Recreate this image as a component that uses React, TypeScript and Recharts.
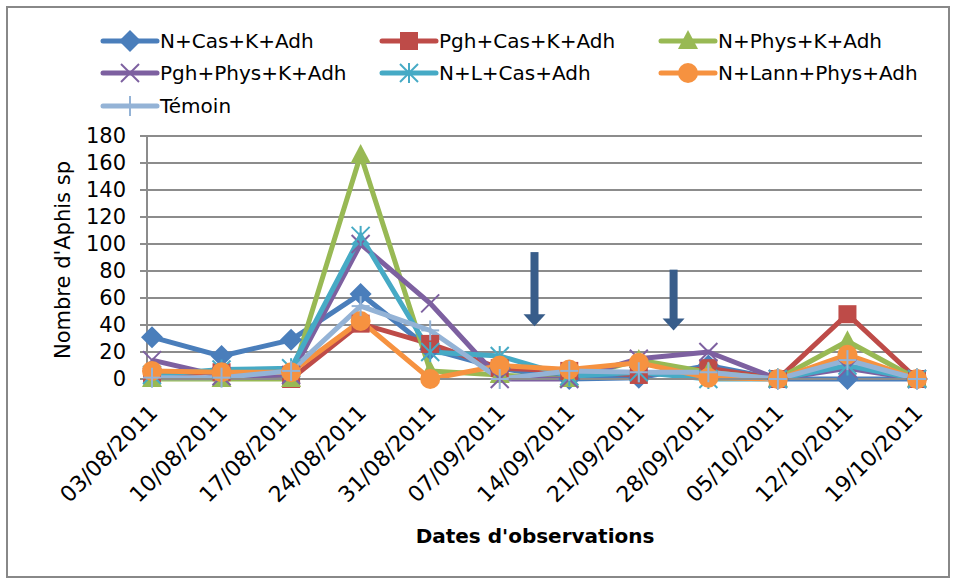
import { LineChart, Line, XAxis, YAxis, CartesianGrid, Label } from 'recharts'

const dates = ['03/08/2011', '10/08/2011', '17/08/2011', '24/08/2011', '31/08/2011', '07/09/2011',
  '14/09/2011', '21/09/2011', '28/09/2011', '05/10/2011', '12/10/2011', '19/10/2011']

const nCasKAdh     = [31, 17, 29, 63, 22, 8, 0, 1, 10, 0, 0, 0]
const pghCasKAdh   = [3, 5, 0, 41, 26, 8, 6, 3, 8, 0, 48, 0]
const nPhysKAdh    = [0, 0, 0, 166, 6, 3, 0, 14, 5, 0, 28, 0]
const pghPhysKAdh  = [14, 2, 3, 100, 56, 0, 0, 15, 20, 0, 8, 0]
const nLCasAdh     = [3, 7, 8, 106, 20, 17, 2, 5, 0, 0, 10, 0]
const nLannPhysAdh = [6, 5, 5, 43, 0, 10, 7, 12, 1, 0, 18, 0]
const temoin       = [1, 1, 6, 54, 36, 0, 6, 5, 5, 0, 14, 0]

const yTicks = [0, 20, 40, 60, 80, 100, 120, 140, 160, 180]

// arrows drawn by the author on top of the chart: [x between dates, top value, tip value]
const arrows = [
  { after: 5, top: 94, tip: 39 },
  { after: 7, top: 81, tip: 36 },
]

const FONT = '"DejaVu Sans", "Liberation Sans", sans-serif'

const series = [
  { key: 's1', name: 'N+Cas+K+Adh',      values: nCasKAdh,     color: '#4A7EBB', shape: 'diamond' },
  { key: 's2', name: 'Pgh+Cas+K+Adh',    values: pghCasKAdh,   color: '#BE4B48', shape: 'square' },
  { key: 's3', name: 'N+Phys+K+Adh',     values: nPhysKAdh,    color: '#98B954', shape: 'triangle' },
  { key: 's4', name: 'Pgh+Phys+K+Adh',   values: pghPhysKAdh,  color: '#7D60A0', shape: 'x' },
  { key: 's5', name: 'N+L+Cas+Adh',      values: nLCasAdh,     color: '#46AAC5', shape: 'star' },
  { key: 's6', name: 'N+Lann+Phys+Adh',  values: nLannPhysAdh, color: '#F69240', shape: 'circle' },
  { key: 's7', name: 'Témoin',           values: temoin,       color: '#94B3D6', shape: 'plus' },
]

const data = dates.map((d, i) => {
  const row: Record<string, string | number> = { date: d }
  series.forEach(s => { row[s.key] = s.values[i] })
  return row
})

// plot geometry (chart is 954 x 579)
const W = 954, H = 579
const margin = { top: 136, right: 32, bottom: 0, left: 0 }
const Y_AXIS_W = 147
const X_AXIS_H = 200
const plotTop = margin.top
const plotBottom = H - X_AXIS_H
const plotLeft = Y_AXIS_W + 5
const plotRight = W - margin.right - 5

function Marker({ shape, color, cx, cy }: { shape: string; color: string; cx: number; cy: number }) {
  if (cx == null || cy == null) return null
  switch (shape) {
    case 'diamond':
      return <path d={`M${cx},${cy - 11} L${cx + 11},${cy} L${cx},${cy + 11} L${cx - 11},${cy} Z`} fill={color} />
    case 'square':
      return <rect x={cx - 9} y={cy - 9} width={18} height={18} fill={color} />
    case 'triangle':
      return <path d={`M${cx},${cy - 11} L${cx + 10},${cy + 8} L${cx - 10},${cy + 8} Z`} fill={color} />
    case 'x':
      return (
        <g stroke={color} strokeWidth={2}>
          <line x1={cx - 9} y1={cy - 9} x2={cx + 9} y2={cy + 9} />
          <line x1={cx - 9} y1={cy + 9} x2={cx + 9} y2={cy - 9} />
        </g>
      )
    case 'star':
      return (
        <g stroke={color} strokeWidth={2}>
          <line x1={cx - 9} y1={cy - 9} x2={cx + 9} y2={cy + 9} />
          <line x1={cx - 9} y1={cy + 9} x2={cx + 9} y2={cy - 9} />
          <line x1={cx} y1={cy - 10} x2={cx} y2={cy + 10} />
        </g>
      )
    case 'circle':
      return <circle cx={cx} cy={cy} r={10} fill={color} />
    case 'plus':
      return (
        <g stroke={color} strokeWidth={2}>
          <line x1={cx - 9} y1={cy} x2={cx + 9} y2={cy} />
          <line x1={cx} y1={cy - 10} x2={cx} y2={cy + 10} />
        </g>
      )
    default:
      return null
  }
}

function DateTick({ x, y, payload }: any) {
  const tx = x + 7
  const ty = y + 27
  return (
    <text x={tx} y={ty} textAnchor="end" transform={`rotate(-45 ${tx} ${ty})`}
      fontFamily={FONT} fontSize={22} fill="#000">
      {payload.value}
    </text>
  )
}

const legendCols = [103, 382, 661]
const legendRows = [41, 73, 106]

export default function App() {
  const step = (plotRight - plotLeft) / (dates.length - 1)
  const yPix = (v: number) => plotBottom - (v / 180) * (plotBottom - plotTop)

  return (
    <div style={{ position: 'absolute', left: 0, top: 0, width: W, height: H, background: '#fff' }}>
      <div style={{ position: 'absolute', left: 6, top: 6, width: 940, height: 568, border: '2px solid #888' }} />
      <LineChart width={W} height={H} data={data} margin={margin} style={{ position: 'absolute', left: 0, top: 0 }}>
        <CartesianGrid vertical={false} stroke="#8C8C8C" strokeWidth={2} />
        <XAxis dataKey="date" height={X_AXIS_H} interval={0} tick={<DateTick />} tickLine={false}
          axisLine={{ stroke: '#8C8C8C', strokeWidth: 2 }} padding={{ left: 5, right: 5 }}>
          <Label content={() => (
            <text x={535} y={543} textAnchor="middle" fontFamily={FONT} fontSize={20} fontWeight="bold" fill="#000">
              Dates d'observations
            </text>
          )} />
        </XAxis>
        <YAxis domain={[0, 180]} ticks={yTicks} width={Y_AXIS_W} interval={0}
          tick={{ fontFamily: FONT, fontSize: 21, fill: '#000' }}
          tickSize={7} tickMargin={14}
          tickLine={{ stroke: '#8C8C8C', strokeWidth: 2 }}
          axisLine={{ stroke: '#8C8C8C', strokeWidth: 2 }}>
          <Label content={() => (
            <text x={63} y={260} transform="rotate(-90 63 260)" textAnchor="middle" dominantBaseline="central"
              fontFamily={FONT} fontSize={21} fill="#000">
              Nombre d'Aphis sp
            </text>
          )} />
        </YAxis>
        {series.map(s => (
          <Line key={s.key} dataKey={s.key} name={s.name} type="linear" stroke={s.color} strokeWidth={5}
            isAnimationActive={false} activeDot={false}
            dot={(p: any) => <Marker key={`${s.key}-${p.index}`} shape={s.shape} color={s.color} cx={p.cx} cy={p.cy} />} />
        ))}
      </LineChart>
      <svg width={W} height={H} style={{ position: 'absolute', left: 0, top: 0, pointerEvents: 'none' }}>
        {arrows.map((a, i) => {
          const ax = plotLeft + step * (a.after + 0.5)
          const y0 = yPix(a.top)
          const y1 = yPix(a.tip)
          return (
            <g key={i} fill="#385D8A">
              <rect x={ax - 4} y={y0} width={8} height={y1 - y0 - 10} />
              <path d={`M${ax - 11},${y1 - 12} L${ax + 11},${y1 - 12} L${ax},${y1} Z`} />
            </g>
          )
        })}
        {series.map((s, i) => {
          const lx = legendCols[i % 3]
          const ly = legendRows[Math.floor(i / 3)]
          return (
            <g key={s.key}>
              <line x1={lx} y1={ly} x2={lx + 54} y2={ly} stroke={s.color} strokeWidth={5} strokeLinecap="round" />
              <Marker shape={s.shape} color={s.color} cx={lx + 27} cy={ly} />
              <text x={lx + 57} y={ly} dominantBaseline="central" fontFamily={FONT} fontSize={20} fill="#000">
                {s.name}
              </text>
            </g>
          )
        })}
      </svg>
    </div>
  )
}
